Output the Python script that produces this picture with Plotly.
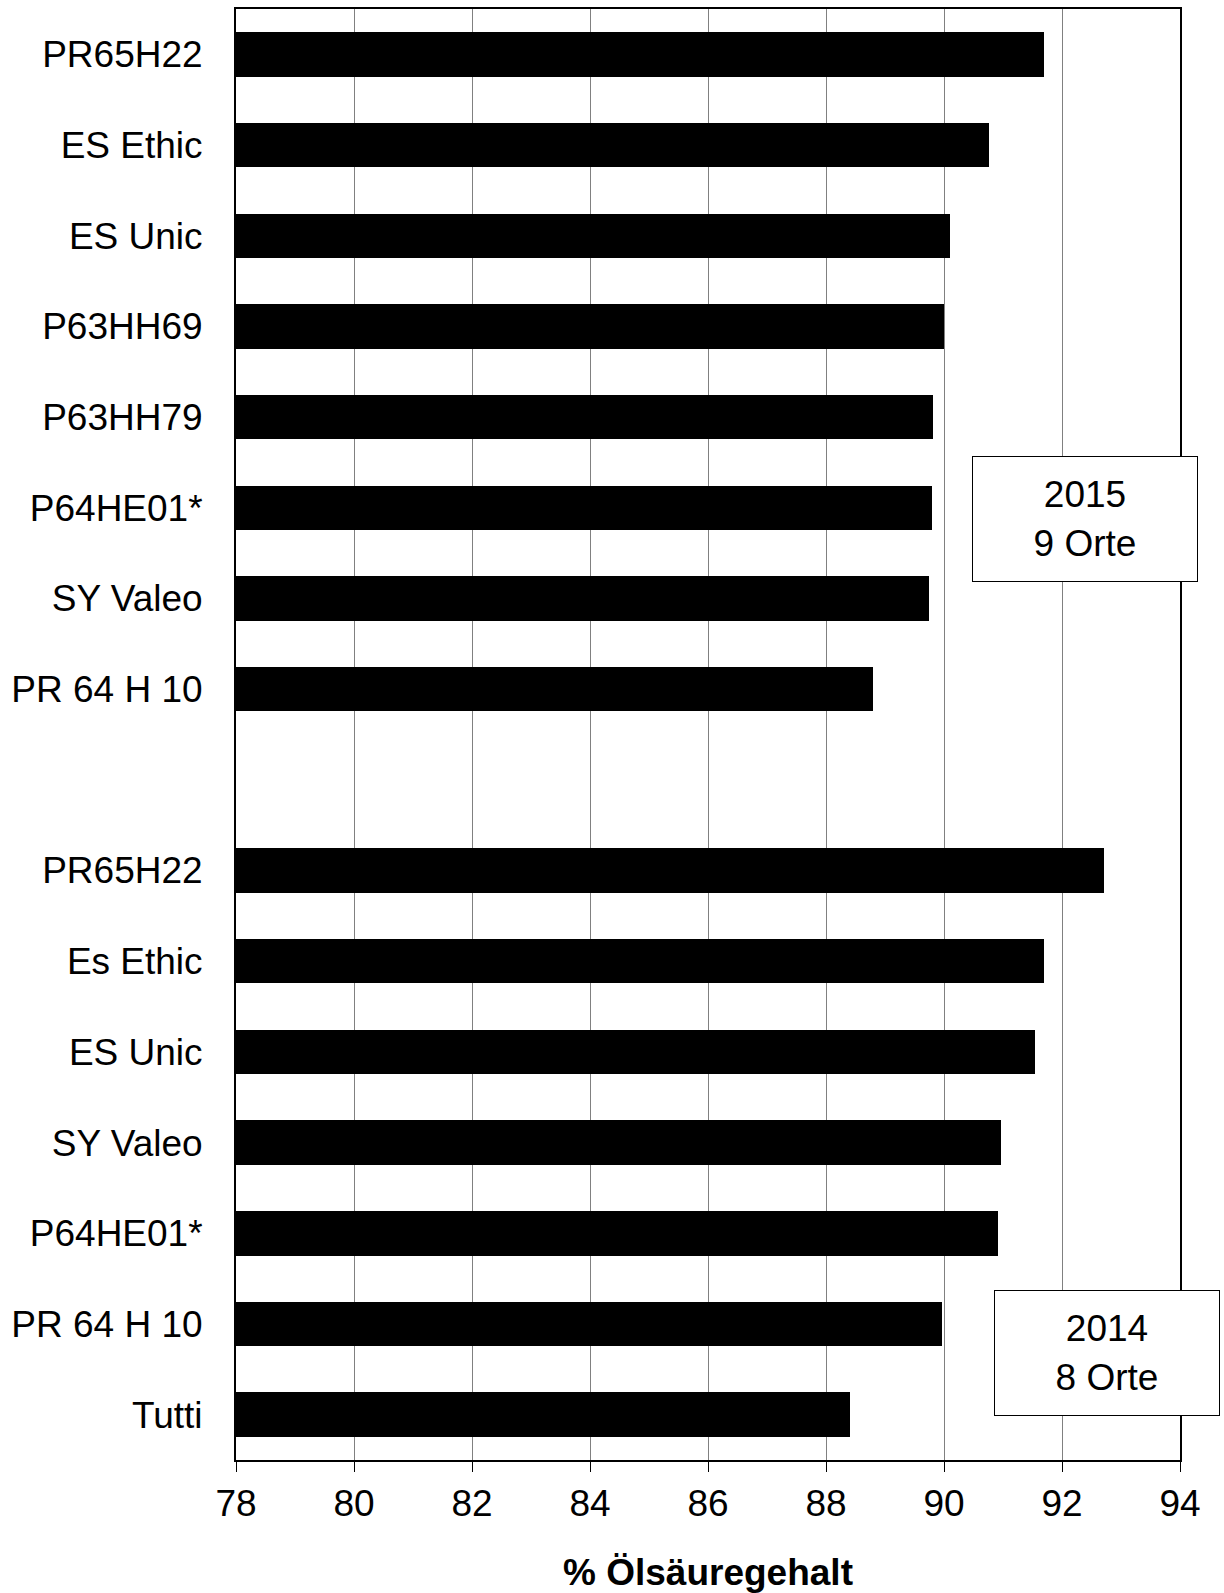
import plotly.graph_objects as go

labels_2015 = ["PR65H22", "ES Ethic", "ES Unic", "P63HH69", "P63HH79", "P64HE01*", "SY Valeo", "PR 64 H 10"]
values_2015 = [91.69, 90.77, 90.10, 90.00, 89.82, 89.79, 89.74, 88.79]

labels_2014 = ["PR65H22", "Es Ethic", "ES Unic", "SY Valeo", "P64HE01*", "PR 64 H 10", "Tutti"]
values_2014 = [92.71, 91.69, 91.55, 90.97, 90.92, 89.97, 88.40]

x_ticks = [78, 80, 82, 84, 86, 88, 90, 92, 94]
x_title = "% Ölsäuregehalt"
box_2015 = "2015<br>9 Orte"
box_2014 = "2014<br>8 Orte"

# slot positions: 2015 group, one empty slot, then 2014 group
pos_2015 = list(range(len(labels_2015)))
pos_2014 = [len(labels_2015) + 1 + i for i in range(len(labels_2014))]
n_slots = len(labels_2015) + 1 + len(labels_2014)

FONT = "Liberation Sans, Arial, sans-serif"
FS = 37

fig = go.Figure()
fig.add_trace(go.Bar(
    x=values_2015 + values_2014,
    y=pos_2015 + pos_2014,
    orientation="h",
    base=0,
    width=0.49,
    marker=dict(color="black", line=dict(width=0)),
    showlegend=False,
))

fig.update_layout(
    width=1224, height=1593,
    margin=dict(l=236, r=44, t=9, b=133),
    paper_bgcolor="white", plot_bgcolor="white",
    font=dict(family=FONT, size=FS, color="black"),
    xaxis=dict(
        range=[78, 94], tickvals=x_ticks, ticktext=[str(v) for v in x_ticks],
        showgrid=True, gridcolor="#808080", gridwidth=1,
        showline=True, linecolor="black", linewidth=2, mirror=True,
        ticks="outside", ticklen=10, tickwidth=1, tickcolor="black",
        tickfont=dict(size=FS),
        title=dict(text="<b>" + x_title + "</b>", font=dict(size=FS), standoff=45),
        zeroline=False,
        automargin=False,
    ),
    yaxis=dict(
        range=[n_slots - 0.5, -0.5],
        tickvals=pos_2015 + pos_2014,
        ticktext=labels_2015 + labels_2014,
        showgrid=False, zeroline=False,
        showline=True, linecolor="black", linewidth=2, mirror=True,
        ticks="", ticklabelstandoff=24,
        tickfont=dict(size=FS),
        automargin=False,
    ),
    bargap=0,
)

fig.add_annotation(
    text=box_2015, xref="paper", yref="paper", x=0.899, y=0.6486,
    xanchor="center", yanchor="middle", showarrow=False,
    width=224, height=124, bgcolor="white", bordercolor="black",
    borderwidth=1, borderpad=0, font=dict(size=FS, family=FONT),
)
fig.add_annotation(
    text=box_2014, xref="paper", yref="paper", x=0.9227, y=0.0738,
    xanchor="center", yanchor="middle", showarrow=False,
    width=224, height=124, bgcolor="white", bordercolor="black",
    borderwidth=1, borderpad=0, font=dict(size=FS, family=FONT),
)

fig.write_html("out.html", config={"displayModeBar": False},
               post_script="document.body.style.margin='0';")
